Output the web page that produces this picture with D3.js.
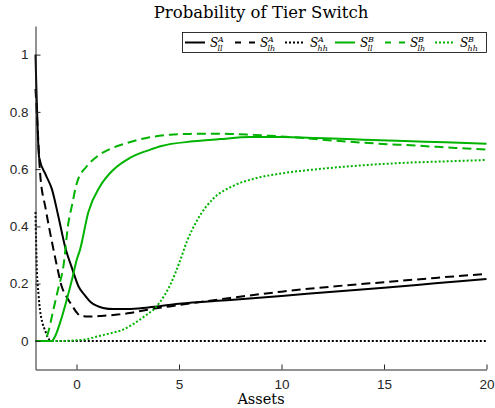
<!DOCTYPE html>
<html>
<head>
<meta charset="utf-8">
<style>
body { margin: 0; background: #fff; }
.tick line, .domain { stroke: #262626; }
.tick text { font-family: 'Liberation Sans', Arial, Helvetica, sans-serif; font-size: 13.5px; fill: #262626; }
.serif { font-family: 'DejaVu Serif', serif; fill: #000; }
.it { font-style: italic; }
</style>
</head>
<body>
<svg width="495" height="408"></svg>
<script src="https://d3js.org/d3.v7.min.js"></script>
<script>
// values, by series
var sllA_x = [-2, -1.82, -1.5, -1.2, -0.9, -0.56, -0.2, 0.1, 0.4, 0.7, 1.0, 1.3, 1.8, 2.5, 3.5, 5, 7.5, 10, 12.5, 15, 17.5, 20];
var sllA_y = [1, 0.64, 0.58, 0.53, 0.44, 0.33, 0.25, 0.19, 0.16, 0.135, 0.122, 0.115, 0.111, 0.111, 0.117, 0.13, 0.143, 0.157, 0.172, 0.186, 0.201, 0.216];

var slhA_x = [-2, -1.9, -1.78, -1.5, -1.21, -0.95, -0.72, -0.45, -0.23, 0, 0.2, 0.6, 1.2, 2, 2.6, 3.4, 5, 7.5, 10, 12.5, 15, 17.5, 20];
var slhA_y = [0.88, 0.75, 0.59, 0.46, 0.35, 0.26, 0.19, 0.15, 0.125, 0.1, 0.087, 0.085, 0.087, 0.092, 0.097, 0.108, 0.125, 0.15, 0.172, 0.19, 0.205, 0.22, 0.234];

var shhA_x = [-2, -1.94, -1.85, -1.78, -1.65, -1.54, -1.4, -1.29, -1, 20];
var shhA_y = [0.45, 0.26, 0.16, 0.108, 0.06, 0.038, 0.012, 0.003, 0, 0];

var sllB_x = [-2, -1.2, -1.05, -0.75, -0.48, -0.2, 0.01, 0.17, 0.58, 1.15, 1.8, 2.6, 3.6, 4.1, 5.7, 7, 8.5, 10, 11.7, 14, 16, 18, 20];
var sllB_y = [0, 0, 0.015, 0.075, 0.143, 0.22, 0.283, 0.318, 0.45, 0.54, 0.598, 0.639, 0.668, 0.68, 0.697, 0.705, 0.712, 0.712, 0.709, 0.703, 0.698, 0.694, 0.689];

var slhB_x = [-2, -1.6, -1.45, -1.13, -0.9, -0.64, -0.4, -0.23, 0.01, 0.5, 1.0, 1.63, 2.45, 3.42, 4.56, 5.5, 6.5, 7.5, 8.5, 9.3, 10.5, 12.5, 14.5, 16.6, 18.5, 20];
var slhB_y = [0, 0, 0.015, 0.108, 0.18, 0.26, 0.41, 0.47, 0.55, 0.61, 0.644, 0.67, 0.691, 0.709, 0.72, 0.723, 0.724, 0.723, 0.72, 0.717, 0.712, 0.70, 0.69, 0.682, 0.674, 0.668];

var shhB_x = [-2, -0.5, 0, 0.5, 1, 1.5, 2.3, 2.8, 3.3, 3.9, 4.3, 4.6, 5, 5.4, 5.9, 6.7, 7.6, 8.8, 10, 11.5, 13, 14.5, 16, 18, 20];
var shhB_y = [0, 0, 0.002, 0.006, 0.015, 0.024, 0.04, 0.06, 0.085, 0.12, 0.16, 0.2, 0.27, 0.35, 0.423, 0.499, 0.54, 0.569, 0.585, 0.598, 0.608, 0.616, 0.622, 0.627, 0.632];

var xTicks = [0, 5, 10, 15, 20];
var yTicks = [0, 0.2, 0.4, 0.6, 0.8, 1];
var seriesSup = ["A", "A", "A", "B", "B", "B"];
var seriesSub = ["ll", "lh", "hh", "ll", "lh", "hh"];

var green = "#00b300";
var series = [
  {xs: sllA_x, ys: sllA_y, color: "#000", dash: null},
  {xs: slhA_x, ys: slhA_y, color: "#000", dash: "9,5"},
  {xs: shhA_x, ys: shhA_y, color: "#000", dash: "2,2"},
  {xs: sllB_x, ys: sllB_y, color: green, dash: null},
  {xs: slhB_x, ys: slhB_y, color: green, dash: "9,5"},
  {xs: shhB_x, ys: shhB_y, color: green, dash: "2,2"}
];

var svg = d3.select("svg");
var x = d3.scaleLinear().domain([-2, 20]).range([35.5, 486.5]);
var y = d3.scaleLinear().domain([-0.1, 1.1]).range([369.5, 26]);

var line = d3.line()
    .x(function(d) { return x(d[0]); })
    .y(function(d) { return y(d[1]); })
    .curve(d3.curveMonotoneX);

// curves
svg.append("g").selectAll("path")
  .data(series)
  .enter().append("path")
    .attr("d", function(s) { return line(s.xs.map(function(v, i) { return [v, s.ys[i]]; })); })
    .attr("fill", "none")
    .attr("stroke", function(s) { return s.color; })
    .attr("stroke-width", 2)
    .attr("stroke-dasharray", function(s) { return s.dash; });

// axes (box off, ticks pointing in)
svg.append("g")
    .attr("transform", "translate(0," + y(-0.1) + ")")
    .call(d3.axisBottom(x).tickValues(xTicks).tickSize(-5).tickSizeOuter(0).tickPadding(10));
svg.append("g")
    .attr("transform", "translate(" + x(-2) + ",0)")
    .call(d3.axisLeft(y).tickValues(yTicks).tickSize(-5).tickSizeOuter(0).tickPadding(7)
      .tickFormat(function(d) { return d3.format("~g")(d); }));
svg.selectAll(".tick text").attr("font-family", null).attr("font-size", null).attr("fill", null);

// title and x label
svg.append("text")
    .attr("class", "serif")
    .attr("x", 261).attr("y", 18)
    .attr("text-anchor", "middle")
    .style("font-size", "16.5px")
    .text("Probability of Tier Switch");
svg.append("text")
    .attr("class", "serif")
    .attr("x", 261).attr("y", 404)
    .attr("text-anchor", "middle")
    .style("font-size", "14.5px")
    .text("Assets");

// legend
var leg = svg.append("g");
leg.append("rect")
    .attr("x", 182.5).attr("y", 32.5)
    .attr("width", 304).attr("height", 20)
    .attr("fill", "#fff")
    .attr("stroke", "#000")
    .attr("stroke-width", 0.8);
var ent = leg.selectAll("g.entry")
  .data(series)
  .enter().append("g")
    .attr("class", "entry")
    .attr("transform", function(d, i) { return "translate(" + (185 + i * 50) + ",42.5)"; });
ent.append("line")
    .attr("x1", 0).attr("x2", 20)
    .attr("stroke", function(d) { return d.color; })
    .attr("stroke-width", 2)
    .attr("stroke-dasharray", function(d) { return d.dash === "9,5" ? "6,8" : d.dash; });
ent.append("text")
    .attr("class", "serif it")
    .attr("x", 25).attr("y", 4.5)
    .style("font-size", "12px")
    .text("S");
ent.append("text")
    .attr("class", "serif it")
    .attr("x", 33).attr("y", -1)
    .style("font-size", "8px")
    .text(function(d, i) { return seriesSup[i]; });
ent.append("text")
    .attr("class", "serif it")
    .attr("x", 32.5).attr("y", 8)
    .style("font-size", "8px")
    .text(function(d, i) { return seriesSub[i]; });
</script>
</body>
</html>
